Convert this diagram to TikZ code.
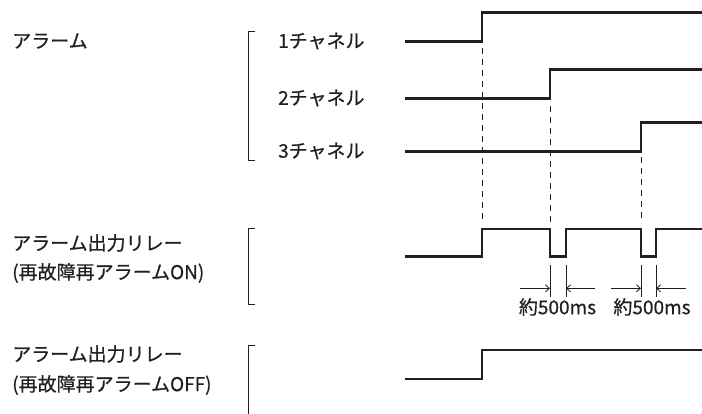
\documentclass[tikz,border=0pt]{standalone}
\usepackage{fontspec}
\setmainfont{Noto Sans CJK JP}[FakeBold=0.6]
\usetikzlibrary{arrows.meta}
\definecolor{ink}{HTML}{231F20}
\tikzset{
  lbl/.style={anchor=west,inner sep=0pt,font=\fontsize{19}{21}\selectfont,text=ink},
  wave/.style={draw=ink,line width=2.6pt,line join=miter},
  brk/.style={draw=ink,line width=0.8pt},
  guide/.style={draw=ink,line width=1pt,dash pattern=on 6pt off 5pt},
  tick/.style={draw=ink,line width=0.8pt},
  dim/.style={draw=ink,line width=0.8pt,-{Straight Barb[length=4pt,width=7pt]}}
}
\begin{document}
\begin{tikzpicture}[x=1pt,y=-1pt]
\useasboundingbox (0,0) rectangle (702,414);
% labels
\node[lbl] (alarm) at (12,41) {アラーム};
\node[lbl] (ch1) at (278,41) {1チャネル};
\node[lbl] (ch2) at (278,98) {2チャネル};
\node[lbl] (ch3) at (278,151) {3チャネル};
\node[lbl] (on1) at (12,243) {アラーム出力リレー};
\node[lbl] (on2) at (12,273) {(再故障再アラームON)};
\node[lbl] (off1) at (12,354) {アラーム出力リレー};
\node[lbl] (off2) at (12,385) {(再故障再アラームOFF)};
% brackets
\draw[brk] (255,31) -- (248,31) -- (248,160) -- (255,160);
\draw[brk] (255,228) -- (248,228) -- (248,304) -- (255,304);
\draw[brk] (255,345) -- (248,345) -- (248,414);
% channels
\draw[wave] (405,41.7) -- (482,41.7) -- (482,12.3) -- (702,12.3);
\draw[wave] (405,98.7) -- (550,98.7) -- (550,69.7) -- (702,69.7);
\draw[wave] (405,151.7) -- (641,151.7) -- (641,122.3) -- (702,122.3);
% relay ON
\draw[wave] (405,256.7) -- (482,256.7) -- (482,229) -- (550,229) -- (550,256.7) -- (566,256.7) -- (566,229) -- (641,229) -- (641,256.7) -- (656,256.7) -- (656,229) -- (702,229);
% relay OFF
\draw[wave] (405,379) -- (482,379) -- (482,350) -- (702,350);
% guides
\draw[guide] (482,48) -- (482,222);
\draw[guide] (550,106) -- (550,222);
\draw[guide] (641,157) -- (641,222);
% ticks
\draw[tick] (550,265) -- (550,297);
\draw[tick] (566,265) -- (566,297);
\draw[tick] (641,265) -- (641,297);
\draw[tick] (656,265) -- (656,297);
\coordinate (a1s) at (520,288.3);
\coordinate (a1e) at (550,288.3);
\coordinate (a2s) at (595,288.3);
\coordinate (a2e) at (566,288.3);
\coordinate (a3s) at (611,288.3);
\coordinate (a3e) at (641,288.3);
\coordinate (a4s) at (686,288.3);
\coordinate (a4e) at (656,288.3);
\draw[dim] (a1s) -- (a1e);
\draw[dim] (a2s) -- (a2e);
\draw[dim] (a3s) -- (a3e);
\draw[dim] (a4s) -- (a4e);
\node[lbl,anchor=center] (d1) at (557.5,307) {約500ms};
\node[lbl,anchor=center] (d2) at (652,307) {約500ms};
\end{tikzpicture}
\end{document}
